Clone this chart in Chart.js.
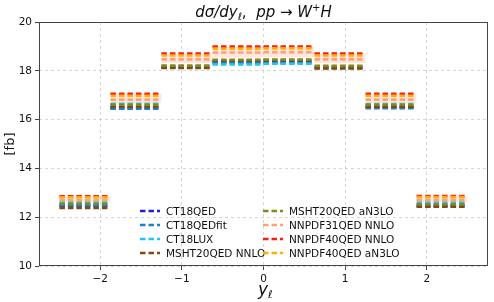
<!DOCTYPE html>
<html>
<head>
<meta charset="utf-8">
<script src="https://cdn.jsdelivr.net/npm/chart.js@4"></script>
<style>
  html, body { margin: 0; padding: 0; background: #fff; }
  #wrap { width: 494px; height: 302px; }
</style>
</head>
<body>
<div id="wrap"><canvas id="chart" width="494" height="302"></canvas></div>
<script>
// Bin edges in lepton rapidity
const binEdges = [-2.5, -1.875, -1.25, -0.625, 0, 0.625, 1.25, 1.875, 2.5];

// Cross section per bin [fb], one array per PDF set
const ct18qed      = [12.47, 16.48, 18.15, 18.37, 18.36, 18.14, 16.50, 12.47];
const ct18qedfit   = [12.48, 16.45, 18.13, 18.33, 18.32, 18.12, 16.47, 12.46];
const ct18lux      = [12.60, 16.65, 18.18, 18.26, 18.29, 18.16, 16.64, 12.60];
const msht20Nnlo   = [12.38, 16.53, 18.12, 18.42, 18.43, 18.10, 16.53, 12.43];
const msht20An3lo  = [12.55, 16.61, 18.22, 18.45, 18.46, 18.20, 16.61, 12.53];
const nnpdf31Nnlo  = [12.71, 16.82, 18.47, 18.75, 18.76, 18.47, 16.82, 12.71];
const nnpdf40Nnlo  = [12.86, 17.06, 18.71, 18.99, 18.99, 18.71, 17.06, 12.87];
const nnpdf40An3lo = [12.82, 16.98, 18.63, 18.91, 18.92, 18.63, 16.98, 12.83];

// light uncertainty band behind the NNPDF lines
const bandHi = [12.85, 17.05, 18.70, 18.98, 18.98, 18.70, 17.05, 12.86];
const bandLo = [12.62, 16.68, 18.32, 18.55, 18.56, 18.32, 16.68, 12.62];

const xTicks = [-2, -1, 0, 1, 2];
const yTicks = [10, 12, 14, 16, 18, 20];

// turn per-bin values into horizontal segments, broken between bins
function toSteps(vals) {
    const pts = [];
    vals.forEach((v, i) => {
        pts.push({x: binEdges[i], y: v});
        pts.push({x: binEdges[i + 1], y: v});
        pts.push({x: binEdges[i + 1], y: null});
    });
    return pts;
}

const series = [
    {label: 'CT18QED',            data: ct18qed,      color: '#1f1fe6'},
    {label: 'CT18QEDfit',         data: ct18qedfit,   color: '#1f7fc8'},
    {label: 'CT18LUX',            data: ct18lux,      color: '#1ec8f5'},
    {label: 'MSHT20QED NNLO',     data: msht20Nnlo,   color: '#8b4513'},
    {label: 'MSHT20QED aN3LO',    data: msht20An3lo,  color: '#7f8b12'},
    {label: 'NNPDF31QED NNLO',    data: nnpdf31Nnlo,  color: '#ffa07a'},
    {label: 'NNPDF40QED NNLO',    data: nnpdf40Nnlo,  color: '#ff1a1a'},
    {label: 'NNPDF40QED aN3LO',   data: nnpdf40An3lo, color: '#ffb000'}
];

const datasets = series.map((s, i) => ({
    label: s.label,
    data: toSteps(s.data),
    borderColor: s.color,
    borderWidth: 2.6,
    borderDash: [5.5, 3],
    pointRadius: 0,
    fill: false,
    spanGaps: false,
    order: series.length - i
}));

datasets.push({
    label: '_bandHi',
    data: toSteps(bandHi),
    borderColor: 'rgba(0,0,0,0)',
    borderWidth: 0,
    pointRadius: 0,
    backgroundColor: 'rgba(255, 160, 122, 0.28)',
    fill: '+1',
    spanGaps: false,
    order: 20
});
datasets.push({
    label: '_bandLo',
    data: toSteps(bandLo),
    borderColor: 'rgba(0,0,0,0)',
    borderWidth: 0,
    pointRadius: 0,
    fill: false,
    spanGaps: false,
    order: 21
});

// frame, title, axis labels and two-column legend
const decorPlugin = {
    id: 'decor',
    afterDraw(chart) {
        const ctx = chart.ctx;
        const a = chart.chartArea;
        ctx.save();
        ctx.strokeStyle = '#444';
        ctx.lineWidth = 1;
        ctx.strokeRect(a.left + 0.5, a.top + 0.5, a.right - a.left - 1, a.bottom - a.top - 1);

        ctx.fillStyle = '#111';
        ctx.textBaseline = 'alphabetic';

        // title: dσ/dy_ℓ,  pp → W⁺H
        const parts = [
            ['italic 15px "DejaVu Sans"', 'd\u03c3/dy', 0],
            ['italic 10px "DejaVu Sans"', '\u2113', 3],
            ['15px "DejaVu Sans"', ',  ', 0],
            ['italic 15px "DejaVu Sans"', 'pp', 0],
            ['15px "DejaVu Sans"', ' \u2192 ', 0],
            ['italic 15px "DejaVu Sans"', 'W', 0],
            ['10px "DejaVu Sans"', '+', -6],
            ['italic 15px "DejaVu Sans"', 'H', 0]
        ];
        let total = 0;
        parts.forEach(p => { ctx.font = p[0]; total += ctx.measureText(p[1]).width; });
        let tx = (a.left + a.right) / 2 - total / 2;
        parts.forEach(p => {
            ctx.font = p[0];
            ctx.fillText(p[1], tx, 17 + p[2]);
            tx += ctx.measureText(p[1]).width;
        });

        // x label y_ℓ
        ctx.font = 'italic 17px "DejaVu Sans"';
        const yw = ctx.measureText('y').width;
        ctx.fillText('y', 258, 295);
        ctx.font = 'italic 11px "DejaVu Sans"';
        ctx.fillText('\u2113', 258 + yw, 298);

        // y label
        ctx.save();
        ctx.translate(14, (a.top + a.bottom) / 2);
        ctx.rotate(-Math.PI / 2);
        ctx.font = '13px "DejaVu Sans"';
        ctx.textAlign = 'center';
        ctx.fillText('[fb]', 0, 0);
        ctx.restore();

        // legend, column-major, 4 rows
        const colX = [140, 263];
        const rowY = [211, 225, 239, 253];
        ctx.font = '10.5px "DejaVu Sans"';
        ctx.textBaseline = 'middle';
        series.forEach((s, i) => {
            const x = colX[Math.floor(i / 4)];
            const y = rowY[i % 4];
            ctx.strokeStyle = s.color;
            ctx.lineWidth = 2.6;
            ctx.setLineDash([5.5, 3]);
            ctx.beginPath();
            ctx.moveTo(x, y);
            ctx.lineTo(x + 20, y);
            ctx.stroke();
            ctx.fillStyle = '#111';
            ctx.fillText(s.label, x + 26, y + 1);
        });
        ctx.setLineDash([]);
        ctx.restore();
    }
};

const ctx = document.getElementById('chart').getContext('2d');
new Chart(ctx, {
    type: 'line',
    data: { datasets: datasets },
    options: {
        responsive: false,
        animation: false,
        layout: { padding: { top: 22, right: 6, left: 0, bottom: 0 } },
        plugins: {
            legend: { display: false },
            title: { display: false },
            tooltip: { enabled: false }
        },
        scales: {
            x: {
                type: 'linear',
                min: -2.75,
                max: 2.75,
                afterFit(scale) { scale.height = 36; },
                afterBuildTicks(scale) { scale.ticks = xTicks.map(v => ({value: v})); },
                ticks: {
                    color: '#111',
                    font: { family: 'DejaVu Sans', size: 10.5 },
                    padding: 3,
                    maxRotation: 0,
                    callback: v => (v < 0 ? '\u2212' + Math.abs(v) : String(v))
                },
                grid: {
                    color: 'rgba(180,180,180,0.55)',
                    tickColor: '#444',
                    tickLength: 4,
                    tickWidth: 1
                },
                border: { display: false, dash: [3, 3] }
            },
            y: {
                min: 10,
                max: 20,
                afterFit(scale) { scale.width = 39; },
                afterBuildTicks(scale) { scale.ticks = yTicks.map(v => ({value: v})); },
                ticks: {
                    color: '#111',
                    font: { family: 'DejaVu Sans', size: 10.5 },
                    padding: 3
                },
                grid: {
                    color: 'rgba(180,180,180,0.55)',
                    tickColor: '#444',
                    tickLength: 4,
                    tickWidth: 1
                },
                border: { display: false, dash: [3, 3] }
            }
        }
    },
    plugins: [decorPlugin]
});
</script>
</body>
</html>
